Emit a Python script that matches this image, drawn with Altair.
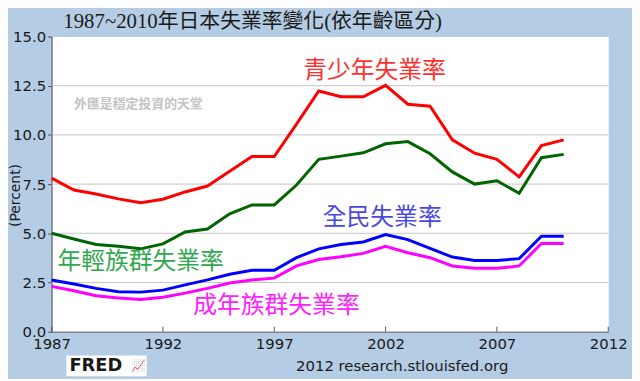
import altair as alt
import pandas as pd

years = list(range(1987, 2011))
youth = [7.8, 7.2, 7.0, 6.75, 6.55, 6.73, 7.1, 7.4, 8.15, 8.9, 8.9, 10.55, 12.23, 11.94, 11.94, 12.52, 11.56, 11.46, 9.75, 9.07, 8.76, 7.87, 9.46, 9.75]
young = [5.0, 4.71, 4.43, 4.34, 4.21, 4.46, 5.07, 5.22, 5.99, 6.44, 6.44, 7.45, 8.76, 8.92, 9.09, 9.55, 9.66, 9.04, 8.12, 7.5, 7.67, 7.03, 8.84, 9.01]
total = [2.63, 2.42, 2.2, 2.03, 2.01, 2.11, 2.38, 2.63, 2.92, 3.12, 3.12, 3.76, 4.21, 4.43, 4.56, 4.93, 4.68, 4.23, 3.79, 3.62, 3.62, 3.71, 4.85, 4.85]
adult = [2.3, 2.08, 1.83, 1.71, 1.63, 1.75, 1.96, 2.2, 2.47, 2.63, 2.72, 3.34, 3.67, 3.81, 3.98, 4.34, 4.01, 3.76, 3.34, 3.22, 3.22, 3.34, 4.48, 4.48]

series_names = ["青少年失業率", "年輕族群失業率", "全民失業率", "成年族群失業率"]
line_colors = ["#ff0000", "#006400", "#0000ff", "#ff00ff"]
label_colors = ["#ff3030", "#30a850", "#4848e0", "#ff20ff"]
label_years = [2001.5, 1991.0, 2001.85, 1997.1]
label_values = [13.24, 3.52, 5.79, 1.31]

x_ticks = [1987, 1992, 1997, 2002, 2007, 2012]
y_ticks = [0, 2.5, 5, 7.5, 10, 12.5, 15]
grid_values = [2.5, 5, 7.5, 10, 12.5]

title_text = "1987~2010年日本失業率變化(依年齡區分)"
watermark = "外匯是穩定投資的天堂"
source_text = "2012 research.stlouisfed.org"

rows = []
for name, vals in zip(series_names, [youth, young, total, adult]):
    for y, v in zip(years, vals):
        rows.append({"year": y, "value": v, "series": name})
df = pd.DataFrame(rows)

lab = pd.DataFrame({"year": label_years, "value": label_values, "label": series_names})
grid_df = pd.DataFrame({"value": grid_values})
tick_df = pd.DataFrame({"year": x_ticks})

xs = alt.Scale(domain=[1987, 2012], nice=False, zero=False)
ys = alt.Scale(domain=[0, 15], nice=False)

W, H = 562, 298
CJK = "Noto Sans CJK TC"

x_axis = alt.Axis(values=x_ticks, format="d", title=None, ticks=False, grid=False,
                  labelFontSize=15, labelFont="DejaVu Sans", labelColor="#1a1a1a",
                  labelPadding=5, domainColor="#555555", labelFlush=False)
y_axis = alt.Axis(values=y_ticks, format=".1f", title="(Percent)", grid=False,
                  tickSize=4, tickColor="#555555", domainColor="#444444",
                  labelFontSize=15, labelFont="DejaVu Sans", labelColor="#1a1a1a",
                  labelPadding=2, titleFont="DejaVu Sans", titleFontSize=14,
                  titleFontWeight="normal", titleColor="#1a1a1a",
                  titleX=-36, titleY=160, titleAlign="center", titleBaseline="middle")

X = alt.X("year:Q", scale=xs, axis=x_axis)
Y = alt.Y("value:Q", scale=ys, axis=y_axis)

grid = alt.Chart(grid_df).mark_rule(color="#c4c4c4", strokeWidth=1).encode(y=Y)

ticks = alt.Chart(tick_df).mark_rule(color="#555555", strokeWidth=1).encode(
    x=X, y=alt.value(H), y2=alt.value(H - 5),
)

lines = alt.Chart(df).mark_line(strokeWidth=3).encode(
    x=X, y=Y,
    color=alt.Color("series:N", scale=alt.Scale(domain=series_names, range=line_colors), legend=None),
    detail="series:N",
)

labels = alt.Chart(lab).mark_text(fontSize=24, font=CJK, align="center", baseline="middle").encode(
    x=X, y=Y, text="label:N",
    color=alt.Color("label:N", scale=alt.Scale(domain=series_names, range=label_colors), legend=None),
)

wm = alt.Chart(pd.DataFrame({"year": [1990.9], "value": [11.58], "t": [watermark]})).mark_text(
    fontSize=13, font=CJK, color="#c4c4c4", fontWeight="bold", align="center", baseline="middle"
).encode(x=X, y=Y, text="t:N")

title = alt.Chart(pd.DataFrame({"t": [title_text]})).mark_text(
    fontSize=21, font="Liberation Serif, " + CJK, color="#1a1a1a", align="center", baseline="middle"
).encode(x=alt.value(203), y=alt.value(-15), text="t:N")

source = alt.Chart(pd.DataFrame({"t": [source_text]})).mark_text(
    fontSize=15, font="DejaVu Sans", color="#1a1a1a", align="center", baseline="middle"
).encode(x=alt.value(354), y=alt.value(333), text="t:N")

fred_box = alt.Chart(pd.DataFrame({"a": [0]})).mark_rect(color="white").encode(
    x=alt.value(15), x2=alt.value(96), y=alt.value(322), y2=alt.value(343)
)
fred = alt.Chart(pd.DataFrame({"t": ["FRED"]})).mark_text(
    fontSize=18, font="DejaVu Sans", fontWeight="bold", color="#1a1a1a", align="left", baseline="middle"
).encode(x=alt.value(18), y=alt.value(333), text="t:N")
fred_icon = alt.Chart(pd.DataFrame({"t": ["📈"]})).mark_text(
    fontSize=12, color="#7a9a7a", align="left", baseline="middle"
).encode(x=alt.value(80), y=alt.value(333), text="t:N")

chart = alt.layer(grid, lines, ticks, labels, wm, title, source, fred_box, fred, fred_icon).resolve_scale(
    color="independent"
).properties(
    width=W, height=H,
    autosize=alt.AutoSizeParams(type="none"),
    padding={"left": 44, "top": 27, "right": 24, "bottom": 46},
    background="#b4cce4",
).configure_view(fill="white", stroke="transparent")

chart.save("out.html", embed_options={"renderer": "svg", "actions": False})
